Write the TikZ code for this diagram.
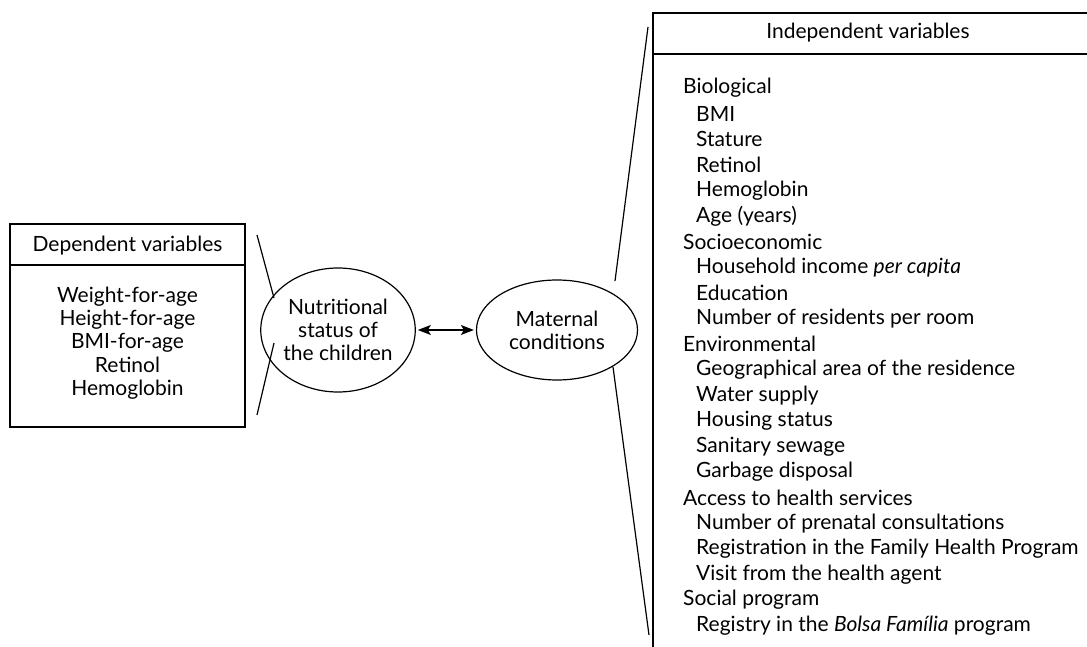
\documentclass[tikz,border=0pt]{standalone}
\usepackage{fontspec}
\setmainfont{Lato}
\usetikzlibrary{shapes.geometric,arrows.meta}
\tikzset{
  txt/.style={font=\fontsize{21}{23.2}\selectfont, inner sep=0pt},
  item/.style={txt, anchor=west},
  ell/.style={draw, ellipse, line width=1.2pt, align=center, txt},
  ln/.style={line width=1.2pt},
  >={Stealth[length=13pt,width=10pt,inset=3pt]},
}
\begin{document}
\begin{tikzpicture}[x=1pt,y=-1pt]
\useasboundingbox (0,0) rectangle (1087,647);
\begin{scope}
\clip (0,0) rectangle (1087,647);
% left box
\draw[ln] (10,224) rectangle (245,427);
\draw[ln] (10,265) -- (245,265);
\node[txt] (dh) at (127.5,246) {Dependent variables};
\node[txt, align=center] (db) at (127.5,343) {Weight-for-age\\Height-for-age\\BMI-for-age\\Retinol\\Hemoglobin};
% ellipses
\node[ell, minimum width=145pt, minimum height=124pt] (nut) at (338,330) {Nutritional\\status of\\the children};
\node[ell, minimum width=161pt, minimum height=100pt] (mat) at (557,330) {Maternal\\conditions};
\draw[ln, <->, shorten <=2pt, shorten >=2pt] (nut.east) -- (mat.west);
% brace lines
\coordinate (a1) at (257,235); \coordinate (a2) at (274,298);
\coordinate (a3) at (274,343); \coordinate (a4) at (257,415);
\draw[ln] (a1) -- (a2);
\draw[ln] (a3) -- (a4);
\coordinate (b1) at (648,27); \coordinate (b2) at (615,281);
\coordinate (b3) at (613,367); \coordinate (b4) at (649,635);
\draw[ln] (b1) -- (b2);
\draw[ln] (b3) -- (b4);
% right box
\draw[ln] (653,700) -- (653,13) -- (1100,13);
\draw[ln] (653,54) -- (1100,54);
\node[txt] (ih) at (868,33) {Independent variables};
\def\ya{88}\def\dy{25.6}
\node[item] (l0) at (683,\ya+0*\dy) {Biological};
\node[item] (l1) at (696,\ya+1*\dy) {BMI};
\node[item] (l2) at (696,\ya+2*\dy) {Stature};
\node[item] (l3) at (696,\ya+3*\dy) {Retinol};
\node[item] (l4) at (696,\ya+4*\dy) {Hemoglobin};
\node[item] (l5) at (696,\ya+5*\dy) {Age (years)};
\node[item] (l6) at (683,\ya+6*\dy) {Socioeconomic};
\node[item] (l7) at (696,\ya+7*\dy) {Household income \textit{per capita}};
\node[item] (l8) at (696,\ya+8*\dy) {Education};
\node[item] (l9) at (696,\ya+9*\dy) {Number of residents per room};
\node[item] (l10) at (683,\ya+10*\dy) {Environmental};
\node[item] (l11) at (696,\ya+11*\dy) {Geographical area of the residence};
\node[item] (l12) at (696,\ya+12*\dy) {Water supply};
\node[item] (l13) at (696,\ya+13*\dy) {Housing status};
\node[item] (l14) at (696,\ya+14*\dy) {Sanitary sewage};
\node[item] (l15) at (696,\ya+15*\dy) {Garbage disposal};
\node[item] (l16) at (683,\ya+16*\dy) {Access to health services};
\node[item] (l17) at (696,\ya+17*\dy) {Number of prenatal consultations};
\node[item] (l18) at (696,\ya+18*\dy) {Registration in the Family Health Program};
\node[item] (l19) at (696,\ya+19*\dy) {Visit from the health agent};
\node[item] (l20) at (683,\ya+20*\dy) {Social program};
\node[item] (l21) at (696,\ya+21*\dy) {Registry in the \textit{Bolsa Família} program};
\end{scope}
\end{tikzpicture}
\end{document}
